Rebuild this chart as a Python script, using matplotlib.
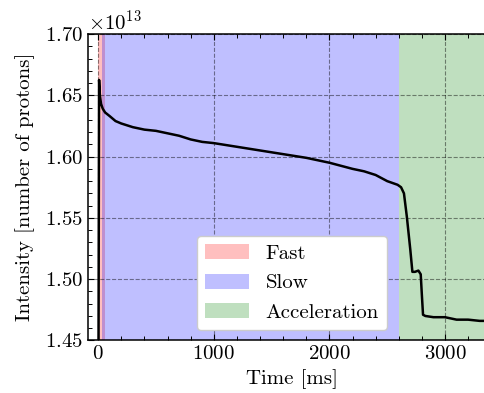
import matplotlib
matplotlib.use('Agg')
import matplotlib.pyplot as plt
from matplotlib.ticker import MultipleLocator

# beam intensity readings (time in ms, intensity in units of 1e13 protons)
time_ms = [0, 8, 15, 25, 40, 60, 100, 150, 200, 300, 400, 500, 600, 700, 800,
           900, 1000, 1200, 1400, 1600, 1800, 2000, 2200, 2300, 2400, 2500,
           2590, 2620, 2645, 2670, 2700, 2718, 2740, 2770, 2790, 2800, 2810,
           2830, 2900, 3000, 3100, 3200, 3300, 3450]
intensity = [1.30, 1.6625, 1.650, 1.643, 1.639, 1.636, 1.633, 1.629, 1.627,
             1.624, 1.622, 1.621, 1.619, 1.617, 1.614, 1.612, 1.611, 1.608,
             1.605, 1.602, 1.599, 1.595, 1.590, 1.588, 1.585, 1.580, 1.577,
             1.575, 1.570, 1.551, 1.524, 1.506, 1.506, 1.507, 1.504, 1.487,
             1.471, 1.470, 1.469, 1.469, 1.467, 1.467, 1.466, 1.466]
scale = 1e13

phases = ['Fast', 'Slow', 'Acceleration']
phase_start = [0, 35, 2600]
phase_end = [55, 2600, 3500]
phase_color = ['red', 'blue', 'green']

plt.rcParams['font.family'] = 'serif'
plt.rcParams['font.serif'] = ['cmr10']
plt.rcParams['mathtext.fontset'] = 'cm'
plt.rcParams['axes.formatter.use_mathtext'] = True
plt.rcParams['axes.unicode_minus'] = False
plt.rcParams['font.size'] = 15

fig = plt.figure(figsize=(4.85, 3.93), dpi=100)
# axes runs a little past the right edge of the picture, as in the reference
ax = fig.add_axes([0.1814, 0.1336, 0.841, 0.7799])

for name, t0, t1, c in zip(phases, phase_start, phase_end, phase_color):
    ax.axvspan(t0, t1, color=c, alpha=0.25, lw=0, label=name)

ax.plot(time_ms, [v * scale for v in intensity], color='k', lw=1.8, zorder=3)

ax.set_xlim(-88, 3440)
ax.set_ylim(1.45 * scale, 1.70 * scale)
ax.xaxis.set_major_locator(MultipleLocator(1000))
ax.xaxis.set_minor_locator(MultipleLocator(200))
ax.yaxis.set_major_locator(MultipleLocator(0.05 * scale))
ax.yaxis.set_minor_locator(MultipleLocator(0.01 * scale))

ax.grid(True, which='major', linestyle='--', color='k', alpha=0.45, lw=0.8)
ax.tick_params(which='both', direction='in', top=True, right=True)
ax.tick_params(which='major', length=4.5, width=0.8)
ax.tick_params(which='minor', length=2.8, width=0.7)
for s in ax.spines.values():
    s.set_linewidth(1.1)

ax.set_xlabel('Time [ms]')
ax.set_ylabel('Intensity [number of protons]', labelpad=7)

leg = ax.legend(loc='lower center', framealpha=1, fancybox=True,
                edgecolor='0.8', handlelength=2.1, handleheight=0.75,
                handletextpad=0.8, borderpad=0.4)

fig.savefig('out.png', dpi=100)
